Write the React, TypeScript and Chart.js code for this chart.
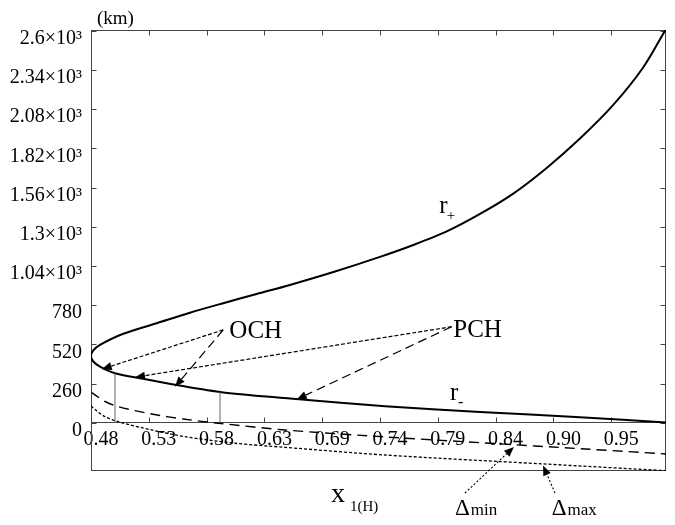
import React, { useEffect, useRef } from "react";
import { Chart, registerables } from "chart.js";

Chart.register(...registerables);

// ---------- data ----------
const X_TICK_VALUES = [0.48, 0.5323, 0.5845, 0.6368, 0.6891, 0.7414, 0.7936, 0.8459, 0.8982, 0.9505];
const X_TICK_LABELS = ["0.48", "0.53", "0.58", "0.63", "0.69", "0.74", "0.79", "0.84", "0.90", "0.95"];
const Y_TICK_VALUES = [0, 260, 520, 780, 1040, 1300, 1560, 1820, 2080, 2340, 2600];
const Y_TICK_LABELS = ["0", "260", "520", "780", "1.04×10³", "1.3×10³", "1.56×10³", "1.82×10³", "2.08×10³", "2.34×10³", "2.6×10³"];

// r+ branch (from turning point outward)
const R_PLUS_X = [0.48, 0.4819, 0.4881, 0.5092, 0.5394, 0.5695, 0.5996, 0.6298, 0.6599, 0.7007, 0.7413, 0.7715, 0.8017, 0.8318, 0.8619, 0.8921, 0.9222, 0.9523, 0.9795, 1.0];
const R_PLUS_Y = [443, 478, 516, 590, 660, 730, 793, 854, 914, 1003, 1100, 1179, 1269, 1385, 1520, 1690, 1885, 2108, 2358, 2612];
// r- branch (from turning point outward)
const R_MINUS_X = [0.48, 0.4819, 0.4881, 0.5017, 0.5243, 0.5575, 0.5996, 0.66, 0.7459, 0.8318, 0.9222, 1.0];
const R_MINUS_Y = [443, 408, 372, 328, 295, 250, 201, 161, 110, 72, 36, 2];
// Δmin
const DMIN_X = [0.48, 0.4863, 0.4927, 0.5047, 0.5349, 0.565, 0.5951, 0.6554, 0.7459, 0.8363, 0.9268, 1.0];
const DMIN_Y = [204, 171, 141, 107, 58, 23, -3, -48, -94, -134, -174, -207];
// Δmax
const DMAX_X = [0.48, 0.4863, 0.4927, 0.5047, 0.5349, 0.565, 0.6102, 0.6554, 0.7459, 0.889, 1.0];
const DMAX_Y = [111, 72, 40, 7, -48, -92, -136, -163, -214, -273, -318];
// vertical markers from r- down to zero
const VLINE_X = [0.5017, 0.5967];
const VLINE_TOP = [328, 203];

// ---------- annotations (data coordinates) ----------
const CALLOUTS = [
  { text: "OCH", tx: 0.6051, ty: 560, ax: 0.5996, ay: 616, tips: [{ x: 0.4897, y: 355, dash: [4, 2] }, { x: 0.556, y: 239, dash: [9, 5] }] },
  { text: "PCH", tx: 0.8076, ty: 567, ax: 0.8062, ay: 637, tips: [{ x: 0.5198, y: 302, dash: [4, 2] }, { x: 0.666, y: 155, dash: [9, 5] }] },
];
const DELTA_LABELS = [
  { sub: "min", tx: 0.8092, ty: -611, sx: 0.8182, sy: -466, ex: 0.8625, ey: -160 },
  { sub: "max", tx: 0.8966, ty: -611, sx: 0.8996, sy: -466, ex: 0.8888, ey: -283 },
];
const R_LABELS = [
  { sub: "+", tx: 0.795, ty: 1390, subDx: 7.5, subDy: 7, subSize: 15 },
  { sub: "-", tx: 0.8047, ty: 151, subDx: 8, subDy: 7, subSize: 16 },
];

const FONT = "'Liberation Serif', 'Times New Roman', serif";

function drawArrow(ctx: CanvasRenderingContext2D, x0: number, y0: number, x1: number, y1: number, dash: number[], width: number) {
  const ang = Math.atan2(y1 - y0, x1 - x0);
  const headLen = 10;
  const headW = 4;
  const c = Math.cos(ang), s = Math.sin(ang);
  const bx = x1 - headLen * c, by = y1 - headLen * s;
  ctx.save();
  ctx.strokeStyle = "#000";
  ctx.fillStyle = "#000";
  ctx.lineWidth = width;
  ctx.setLineDash(dash);
  ctx.beginPath();
  ctx.moveTo(x0, y0);
  ctx.lineTo(bx, by);
  ctx.stroke();
  ctx.setLineDash([]);
  ctx.beginPath();
  ctx.moveTo(x1, y1);
  ctx.lineTo(bx - headW * s, by + headW * c);
  ctx.lineTo(bx + headW * s, by - headW * c);
  ctx.closePath();
  ctx.fill();
  ctx.restore();
}

const framePlugin = {
  id: "frame",
  beforeDatasetsDraw(chart: any) {
    const { ctx, chartArea, scales } = chart;
    const xs = scales.x, ys = scales.y;
    const L = chartArea.left + 0.5, R = chartArea.right - 0.5, T = chartArea.top + 0.5, B = chartArea.bottom - 0.5;
    ctx.save();
    ctx.strokeStyle = "#444";
    ctx.lineWidth = 1;
    ctx.strokeRect(L, T, R - L, B - T);
    const y0 = Math.round(ys.getPixelForValue(0)) - 0.5;
    ctx.beginPath();
    ctx.moveTo(L, y0);
    ctx.lineTo(R, y0);
    // y ticks, left and right
    Y_TICK_VALUES.forEach((v) => {
      const py = Math.round(ys.getPixelForValue(v)) + 0.5;
      ctx.moveTo(L, py);
      ctx.lineTo(L + 5, py);
      ctx.moveTo(R, py);
      ctx.lineTo(R - 5, py);
    });
    // x ticks, top and on the zero line
    X_TICK_VALUES.slice(1).forEach((v) => {
      const px = Math.round(xs.getPixelForValue(v)) + 0.5;
      ctx.moveTo(px, T);
      ctx.lineTo(px, T + 5);
      ctx.moveTo(px, y0);
      ctx.lineTo(px, y0 - 5);
    });
    ctx.stroke();
    ctx.restore();
  },
  afterDraw(chart: any) {
    const { ctx, scales } = chart;
    const X = (v: number) => scales.x.getPixelForValue(v);
    const Y = (v: number) => scales.y.getPixelForValue(v);
    ctx.save();
    ctx.fillStyle = "#000";
    ctx.textBaseline = "alphabetic";
    ctx.textAlign = "left";

    // callouts
    CALLOUTS.forEach((c) => {
      c.tips.forEach((t) => drawArrow(ctx, X(c.ax), Y(c.ay), X(t.x), Y(t.y), t.dash, 1.2));
      ctx.font = `25px ${FONT}`;
      ctx.fillText(c.text, X(c.tx), Y(c.ty));
    });

    // r labels
    R_LABELS.forEach((r) => {
      const x = X(r.tx), y = Y(r.ty);
      ctx.font = `25px ${FONT}`;
      ctx.fillText("r", x, y);
      ctx.font = `${r.subSize}px ${FONT}`;
      ctx.fillText(r.sub, x + r.subDx, y + r.subDy);
    });

    // delta labels and arrows
    DELTA_LABELS.forEach((d) => {
      drawArrow(ctx, X(d.sx), Y(d.sy), X(d.ex), Y(d.ey), [2, 2], 1.1);
      const x = X(d.tx), y = Y(d.ty);
      ctx.font = `23px ${FONT}`;
      ctx.fillText("Δ", x, y);
      const w = ctx.measureText("Δ").width;
      ctx.font = `17px ${FONT}`;
      ctx.fillText(d.sub, x + w + 1, y);
    });

    // axis title x1(H)
    ctx.font = `28px ${FONT}`;
    ctx.fillText("x", 331, 502);
    ctx.font = `15px ${FONT}`;
    ctx.fillText("1(H)", 350, 511);

    // unit
    ctx.font = `19px ${FONT}`;
    ctx.fillText("(km)", 97, 24);
    ctx.restore();
  },
};

export default function App() {
  const ref = useRef<HTMLCanvasElement>(null);
  useEffect(() => {
    const canvas = ref.current;
    if (!canvas) return;
    const pts = (xs: number[], ys: number[]) => xs.map((x, i) => ({ x, y: ys[i] }));
    const rPath = [...pts(R_MINUS_X, R_MINUS_Y).reverse(), ...pts(R_PLUS_X, R_PLUS_Y).slice(1)];
    const vlines = VLINE_X.map((x, i) => ({
      label: "marker" + i,
      data: [{ x, y: 0 }, { x, y: VLINE_TOP[i] }],
      borderColor: "#666",
      borderWidth: 1,
      pointRadius: 0,
      tension: 0,
    }));
    const chart = new Chart(canvas, {
      type: "line",
      data: {
        datasets: [
          ...vlines,
          { label: "Δmin", data: pts(DMIN_X, DMIN_Y), borderColor: "#000", borderWidth: 1.4, borderDash: [10, 6], pointRadius: 0, tension: 0.3 },
          { label: "Δmax", data: pts(DMAX_X, DMAX_Y), borderColor: "#000", borderWidth: 1.3, borderDash: [3, 2], pointRadius: 0, tension: 0.3 },
          { label: "r", data: rPath, borderColor: "#000", borderWidth: 2, pointRadius: 0, tension: 0.3 },
        ] as any,
      },
      options: {
        animation: false,
        responsive: false,
        layout: { padding: { top: 30, right: 9, bottom: 54, left: 0 } },
        plugins: { legend: { display: false }, tooltip: { enabled: false } },
        scales: {
          x: {
            type: "linear",
            position: { y: 0 } as any,
            min: 0.48,
            max: 1.0,
            afterBuildTicks: (s: any) => {
              s.ticks = X_TICK_VALUES.map((v) => ({ value: v }));
            },
            grid: { display: false, drawTicks: false },
            border: { display: false },
            ticks: {
              callback: (_v: any, i: number) => X_TICK_LABELS[i],
              font: { family: "Liberation Serif", size: 20 },
              color: "#000",
              padding: 5,
              labelOffset: 10,
              maxRotation: 0,
              minRotation: 0,
              autoSkip: false,
            },
          },
          y: {
            type: "linear",
            position: "left",
            min: -320,
            max: 2605,
            afterBuildTicks: (s: any) => {
              s.ticks = Y_TICK_VALUES.map((v) => ({ value: v }));
            },
            afterFit: (s: any) => {
              s.width = 91;
            },
            grid: { display: false, drawTicks: false },
            border: { display: false },
            ticks: {
              callback: (_v: any, i: number) => Y_TICK_LABELS[i],
              font: { family: "Liberation Serif", size: 20 },
              color: "#000",
              padding: 9,
              labelOffset: 8,
              autoSkip: false,
            },
          },
        },
      } as any,
      plugins: [framePlugin],
    });
    return () => chart.destroy();
  }, []);
  return (
    <div style={{ position: "fixed", left: 0, top: 0, width: 675, height: 525, background: "#fff" }}>
      <canvas ref={ref} width={675} height={525} style={{ width: 675, height: 525, display: "block" }} />
    </div>
  );
}
